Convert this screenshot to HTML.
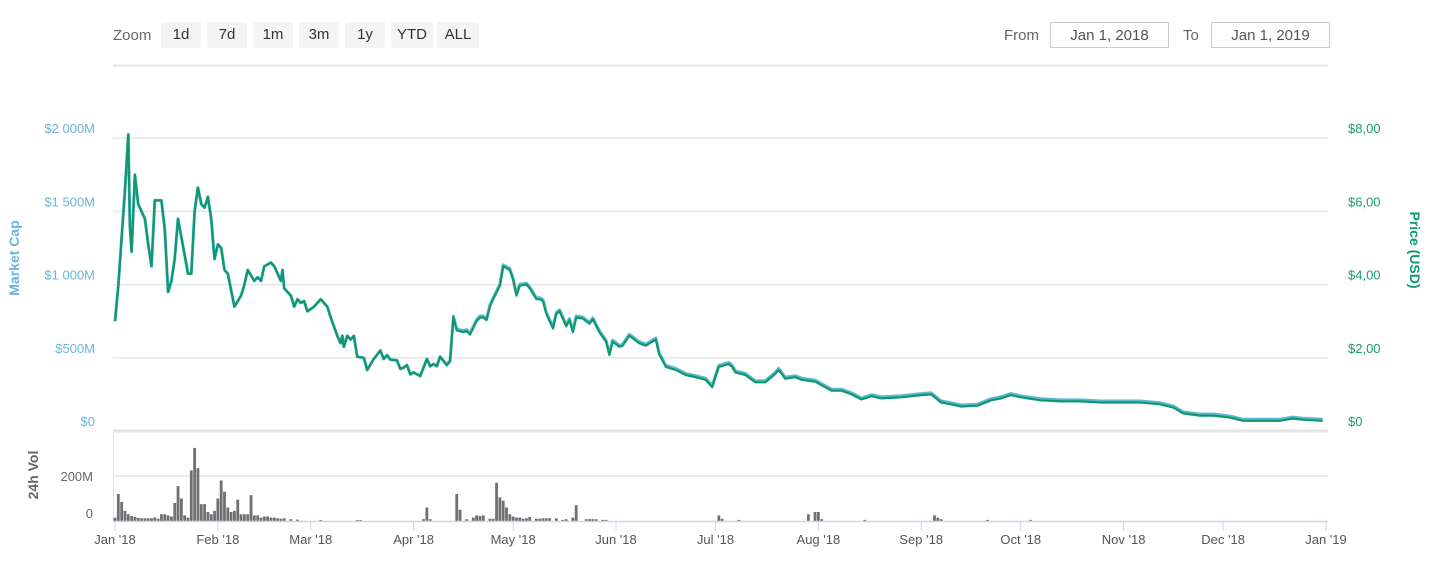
<!DOCTYPE html>
<html><head><meta charset="utf-8"><style>
body{margin:0;background:#fff;font-family:"Liberation Sans","DejaVu Sans",sans-serif;}
.btn{position:absolute;top:22px;height:26px;line-height:26px;background:#f4f4f4;color:#333;font-size:15px;text-align:center;border-radius:2px;}
.lbl{position:absolute;font-size:14px;color:#666;}
.inp{position:absolute;top:22px;height:26px;border:1px solid #ccc;font-size:15px;color:#555;line-height:26px;text-align:center;box-sizing:border-box;}
</style></head><body>
<div style="position:relative;width:1436px;height:573px;overflow:hidden">
<div class="lbl" style="left:113px;top:27px;font-size:15px">Zoom</div>
<div class="btn" style="left:161px;width:40px">1d</div>
<div class="btn" style="left:207px;width:40px">7d</div>
<div class="btn" style="left:253px;width:40px">1m</div>
<div class="btn" style="left:299px;width:40px">3m</div>
<div class="btn" style="left:345px;width:40px">1y</div>
<div class="btn" style="left:391px;width:42px">YTD</div>
<div class="btn" style="left:437px;width:42px">ALL</div>
<div class="lbl" style="left:1004px;top:27px;font-size:15px">From</div>
<div class="inp" style="left:1050px;width:119px">Jan 1, 2018</div>
<div class="lbl" style="left:1183px;top:27px;font-size:15px">To</div>
<div class="inp" style="left:1211px;width:119px">Jan 1, 2019</div>
<svg id="svg" width="1436" height="573" style="position:absolute;left:0;top:0"></svg>
</div>
<script>
const priceDays=[0,1,3,4,4.5,5,6,7,8,9,10,11,12,14,15,16,17,18,19,21,22,23,24,25,26,27,28,29,30,31,32,33,34,36,38,39,40,42,43,44,45,47,48,50,50.5,51,53,54,55,56,57,58,60,62,64,65,67,68,68.5,69,70,71,72,73,75,76,78,80,81,82,83,85,86,87,88,89,90,92,94,95,96,97,98,100,101,102,103,105,106,107,109,110,111,112,113,114,116,117,119,120,121,122,124,125,127,128,129,130,132,133,134,136,137,138,139,141,143,144,146,148,149,150,152,153,155,158,160,163,164,166,169,172,175,178,180,182,185,186,187,190,193,196,199,200,202,205,207,211,213,216,219,222,225,228,231,237,243,246,249,252,255,260,264,267,270,273,279,285,291,297,303,309,315,319,322,327,331,336,340,345,351,355,358,364];
const prices=[3.0,3.97,6.6,8.1,5.6,4.9,7.0,6.2,6.0,5.8,5.1,4.5,6.3,6.3,5.5,3.8,4.1,4.7,5.8,4.8,4.3,4.3,6.0,6.65,6.2,6.1,6.4,5.8,4.7,5.1,5.0,4.4,4.3,3.4,3.7,4.0,4.4,4.1,4.2,4.1,4.5,4.6,4.5,4.1,4.4,3.9,3.7,3.4,3.6,3.5,3.55,3.27,3.4,3.6,3.4,3.1,2.6,2.4,2.6,2.3,2.6,2.5,2.6,2.03,2.0,1.67,1.97,2.2,1.97,2.07,1.95,1.93,1.7,1.73,1.8,1.55,1.6,1.5,1.97,1.77,1.83,1.77,2.03,1.8,1.9,3.1,2.75,2.7,2.73,2.63,3.0,3.1,3.1,3.03,3.4,3.6,3.97,4.5,4.4,4.13,3.7,3.97,4.0,3.9,3.6,3.6,3.55,3.2,2.8,3.2,3.27,2.86,3.03,2.7,3.1,3.07,2.93,3.05,2.7,2.44,2.08,2.44,2.3,2.33,2.6,2.4,2.33,2.5,2.1,1.75,1.67,1.53,1.47,1.4,1.2,1.75,1.83,1.75,1.6,1.53,1.33,1.33,1.56,1.67,1.43,1.47,1.4,1.35,1.25,1.1,1.1,1.0,0.86,0.95,0.89,0.92,0.98,1.0,0.78,0.73,0.67,0.69,0.84,0.89,0.98,0.92,0.84,0.81,0.81,0.78,0.78,0.78,0.73,0.64,0.48,0.42,0.42,0.37,0.28,0.28,0.28,0.34,0.31,0.28];
const volDays=[0,1,2,3,4,5,6,7,8,9,10,11,12,13,14,15,16,17,18,19,20,21,22,23,24,25,26,27,28,29,30,31,32,33,34,35,36,37,38,39,40,41,42,43,44,45,46,47,48,49,50,51,53,55,62,73,74,93,94,95,103,104,106,108,109,110,111,113,114,115,116,117,118,119,120,121,122,123,124,125,127,128,129,130,131,133,135,136,138,139,142,143,144,145,147,148,182,183,188,209,211,212,213,226,247,248,249,263,276];
const volumes=[15,120,85,45,30,22,18,14,12,12,12,12,16,10,30,30,25,20,80,155,100,25,15,225,325,235,75,75,40,30,45,100,180,130,60,40,45,95,30,30,30,115,25,25,15,20,20,15,15,12,10,12,8,6,4,4,4,8,60,8,120,50,8,15,25,22,25,10,10,170,105,90,60,30,20,15,15,10,12,18,10,10,12,12,12,12,5,8,15,70,8,8,8,8,5,5,25,10,5,30,40,40,8,5,25,15,8,5,5];
const monthLabels=["Jan '18","Feb '18","Mar '18","Apr '18","May '18","Jun '18","Jul '18","Aug '18","Sep '18","Oct '18","Nov '18","Dec '18","Jan '19"];
const monthDays=[0,31,59,90,120,151,181,212,243,273,304,334,365];
const capTicks=["$0","$500M","$1 000M","$1 500M","$2 000M"];
const priceTicks=["$0","$2,00","$4,00","$6,00","$8,00"];
const priceTickVals=[0,2,4,6,8];

const X=d=>115+d*(1326-115)/365;
const Y=p=>431-p*36.6;
const YV=v=>521-v*45/200;
const svg=document.getElementById('svg');
const NS='http://www.w3.org/2000/svg';
function mk(tag,attrs,txt){const e=document.createElementNS(NS,tag);for(const k in attrs)e.setAttribute(k,attrs[k]);if(txt!==undefined)e.textContent=txt;svg.appendChild(e);return e;}

let e=mk('line',{x1:113,x2:1328,y1:65.5,y2:65.5,stroke:'#e6e6e6','stroke-width':2});


priceTickVals.forEach((v,i)=>{
  const g=mk('line',{x1:113,x2:1328,y1:Y(v),y2:Y(v),stroke:'#e6e6e6','stroke-width':v===0?3:1.5});
  
  
  const l=mk('text',{x:95,y:Y(v)-5,'text-anchor':'end','font-size':13,fill:'#6cb4de'},capTicks[i]);
  
  
  const r=mk('text',{x:1348,y:Y(v)-5,'font-size':13,fill:'#1a9b72'},priceTicks[i]);
  
  
});
e=mk('text',{x:0,y:0,transform:'translate(19,258) rotate(-90)','text-anchor':'middle','font-size':14,'font-weight':'bold',fill:'#6cb4de'},'Market Cap');


e=mk('text',{x:0,y:0,transform:'translate(1410,250) rotate(90)','text-anchor':'middle','font-size':14,'font-weight':'bold',fill:'#0d9a6c'},'Price (USD)');



e=mk('line',{x1:113,x2:1328,y1:476,y2:476,stroke:'#e6e6e6','stroke-width':1.5});


e=mk('line',{x1:113.5,x2:113.5,y1:430,y2:521,stroke:'#dde4ee','stroke-width':1});


e=mk('text',{x:93,y:481,'text-anchor':'end','font-size':13,fill:'#666'},'200M');


e=mk('text',{x:93,y:518,'text-anchor':'end','font-size':13,fill:'#666'},'0');


e=mk('text',{x:0,y:0,transform:'translate(38,475) rotate(-90)','text-anchor':'middle','font-size':14,'font-weight':'bold',fill:'#666'},'24h Vol');


volDays.forEach((d,i)=>{
  const b=mk('rect',{x:X(d)-1.4,y:YV(volumes[i]),width:2.8,height:521-YV(volumes[i]),fill:'#707070'});
  
  
});
e=mk('line',{x1:113,x2:1328,y1:521.5,y2:521.5,stroke:'#ccd6eb','stroke-width':1.5});


monthDays.forEach((d,i)=>{
  const t=mk('line',{x1:X(d),x2:X(d),y1:521,y2:531,stroke:'#ccd6eb','stroke-width':1});
  
  
  const l=mk('text',{x:X(d),y:544,'text-anchor':'middle','font-size':13,fill:'#555'},monthLabels[i]);
  
  
});
const pts=priceDays.map((d,i)=>X(d).toFixed(1)+','+Y(prices[i]).toFixed(1)).join(' ');
const ptsCap=priceDays.map((d,i)=>X(d).toFixed(1)+','+(Y(prices[i])-(d>100?1.5:0)).toFixed(1)).join(' ');
e=mk('polyline',{points:ptsCap,fill:'none',stroke:'#5bb8d6','stroke-width':3,'stroke-linejoin':'round'});


e=mk('polyline',{points:pts,fill:'none',stroke:'#10976c','stroke-width':2.2,'stroke-linejoin':'round'});


</script>
</body></html>
